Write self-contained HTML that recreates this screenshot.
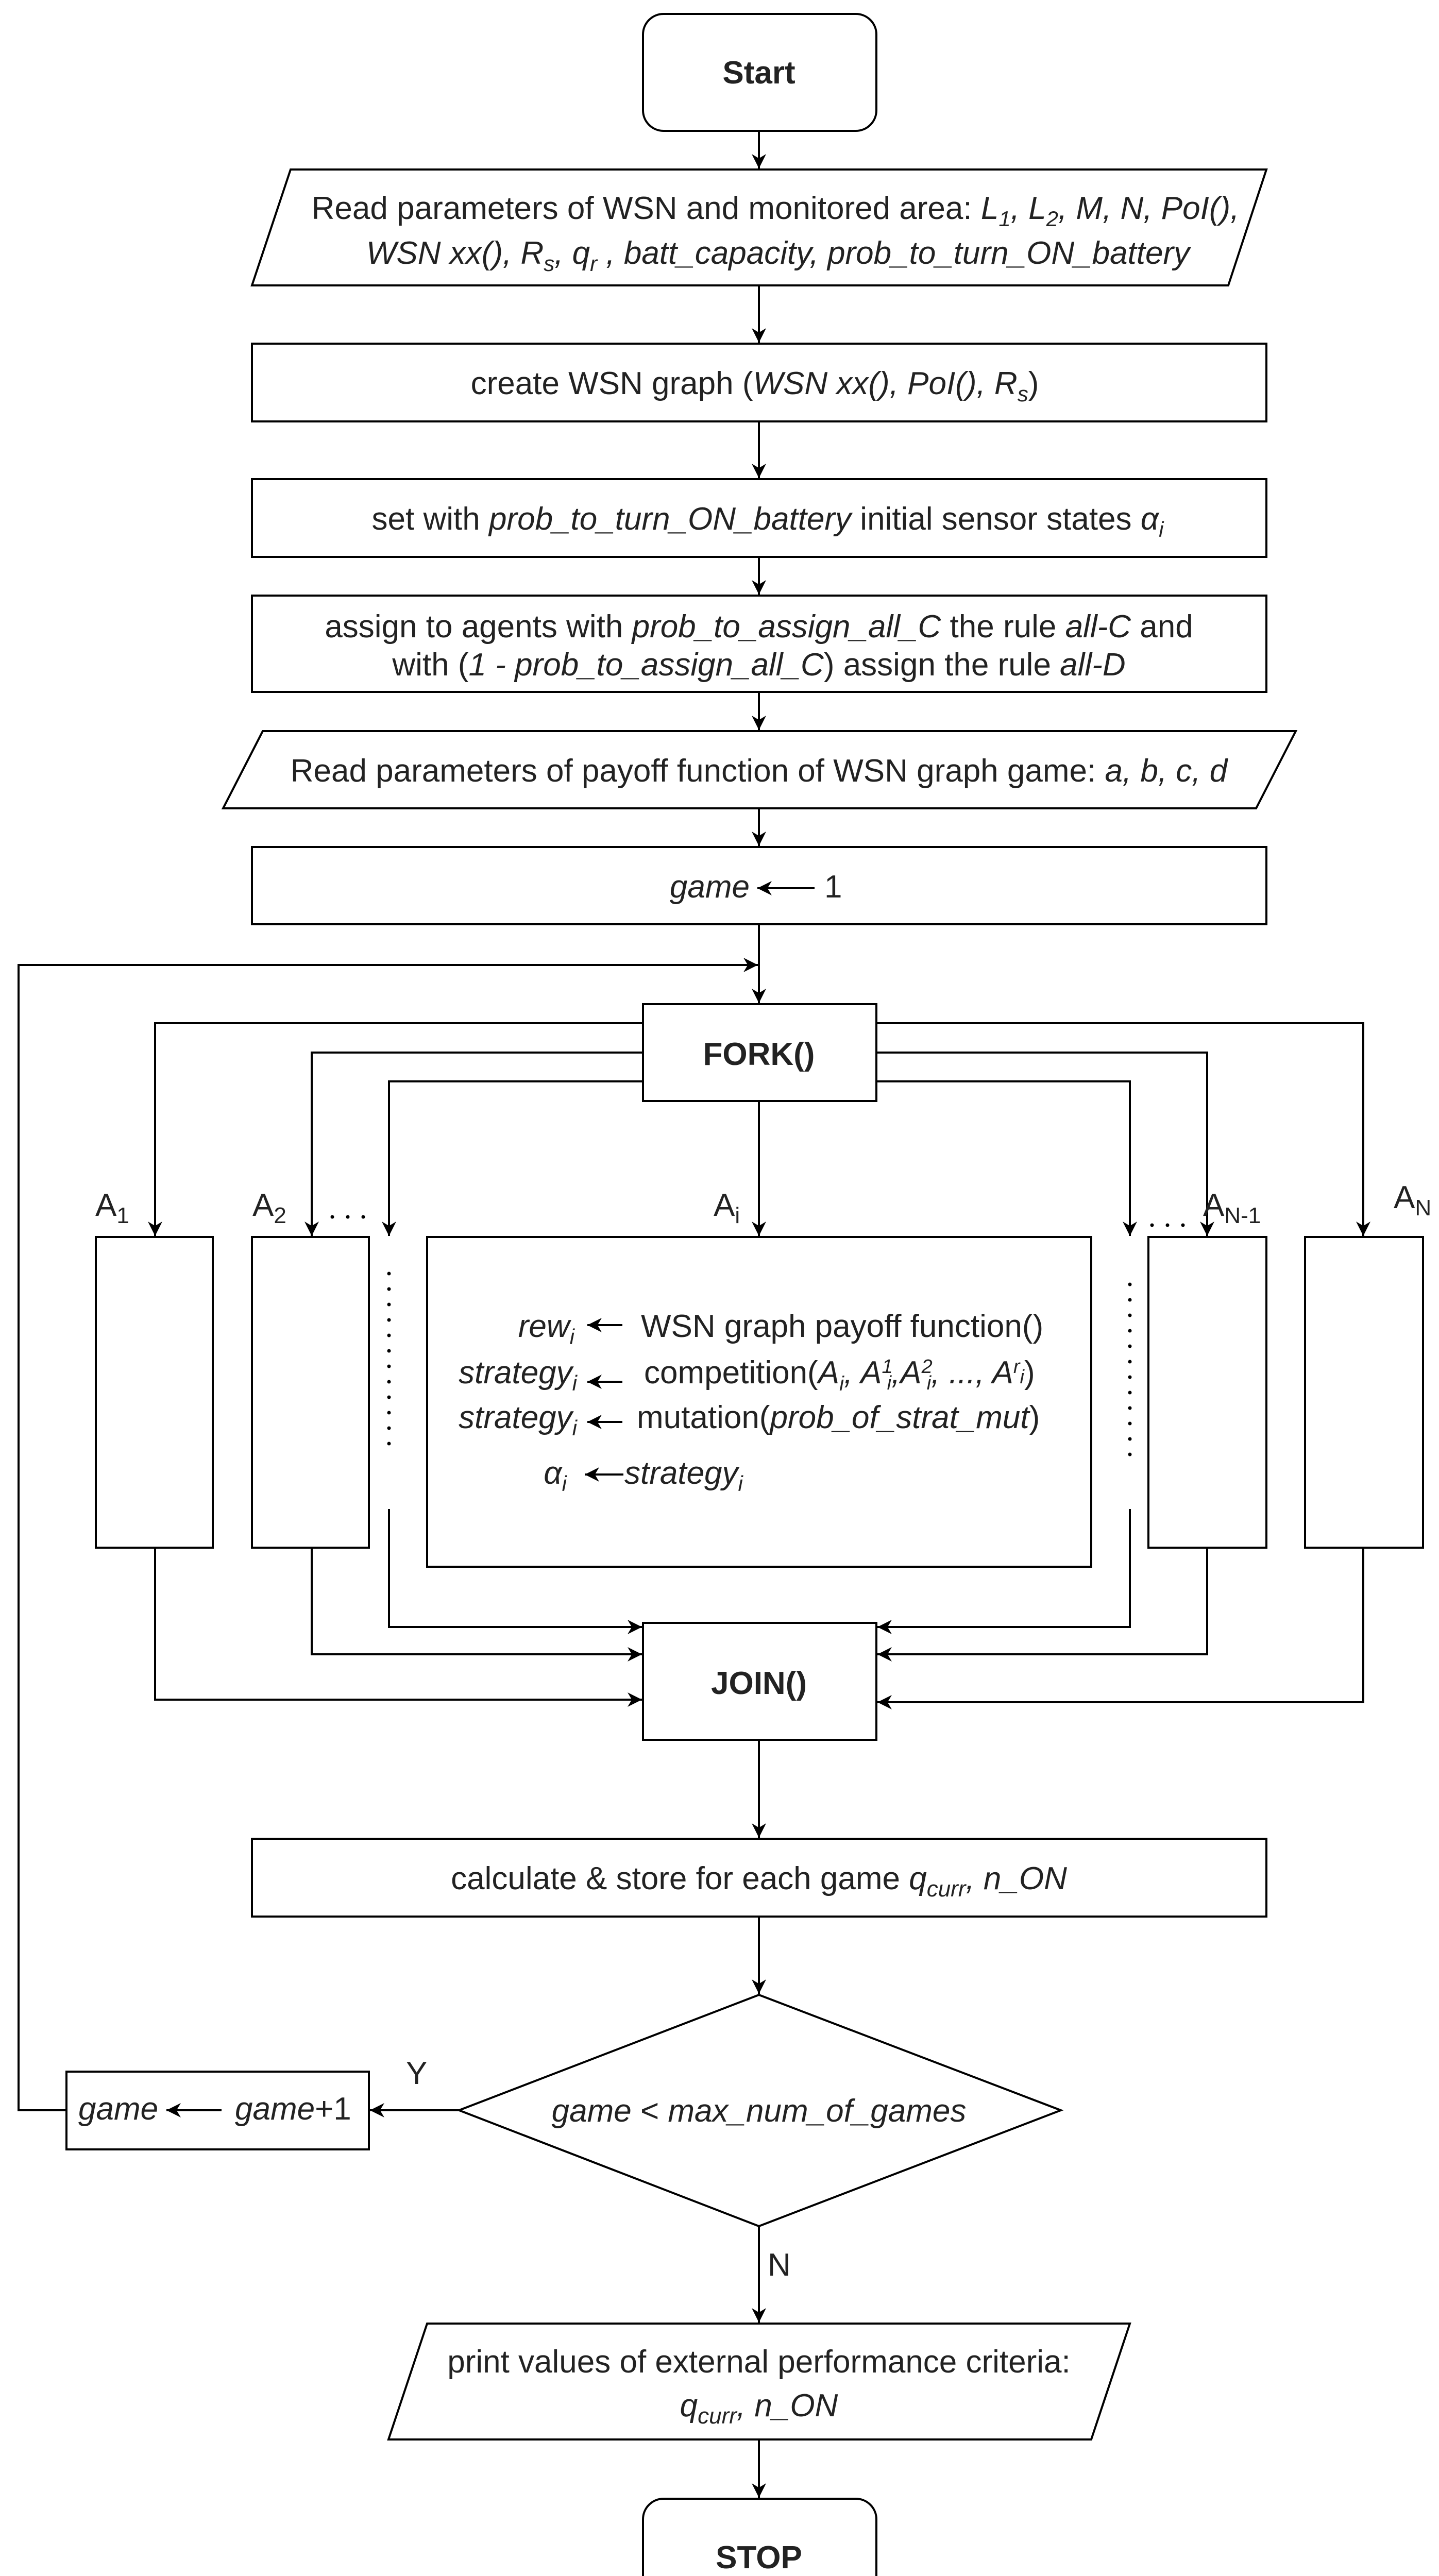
<!DOCTYPE html>
<html><head><meta charset="utf-8"><style>
html,body{margin:0;padding:0;background:#fff;width:2793px;height:5105px;overflow:hidden}
svg{display:block;position:absolute;left:0;top:0}
text{font-family:"Liberation Sans",Arial,sans-serif;font-size:62px;fill:#222}
.i{font-style:italic}
.b{font-weight:bold}
</style></head><body>
<svg width="2793" height="5105" viewBox="0 0 2793 5105" xmlns="http://www.w3.org/2000/svg">
<defs>
<marker id="ah" viewBox="0 0 10 10" refX="10" refY="5" markerWidth="28" markerHeight="28" markerUnits="userSpaceOnUse" orient="auto">
<path d="M0,0 L10,5 L0,10 L3,5 z" fill="#000"/>
</marker>
</defs>
<g fill="none" stroke="#000" stroke-width="4">
<rect x="1248" y="27" width="453" height="227" rx="40"/>
<polygon points="564,329 2458,329 2384,554 489,554"/>
<rect x="489" y="667" width="1969" height="151"/>
<rect x="489" y="930" width="1969" height="151"/>
<rect x="489" y="1156" width="1969" height="187"/>
<polygon points="510,1419 2515,1419 2438,1569 433,1569"/>
<rect x="489" y="1644" width="1969" height="150"/>
<rect x="1248" y="1949" width="453" height="188"/>
<rect x="186" y="2401" width="227" height="603"/>
<rect x="489" y="2401" width="227" height="603"/>
<rect x="829" y="2401" width="1289" height="640"/>
<rect x="2229" y="2401" width="229" height="603"/>
<rect x="2533" y="2401" width="229" height="603"/>
<rect x="1248" y="3150" width="453" height="227"/>
<rect x="489" y="3569" width="1969" height="151"/>
<polygon points="1473,3872 2059,4096 1473,4321 891,4096"/>
<rect x="129" y="4021" width="587" height="151"/>
<polygon points="829,4510 2193,4510 2118,4735 754,4735"/>
<rect x="1248" y="4850" width="453" height="225" rx="40"/>
</g>
<g fill="none" stroke="#000" stroke-width="4" marker-end="url(#ah)">
<line x1="1473" y1="254" x2="1473" y2="327"/>
<line x1="1473" y1="554" x2="1473" y2="665"/>
<line x1="1473" y1="818" x2="1473" y2="928"/>
<line x1="1473" y1="1081" x2="1473" y2="1154"/>
<line x1="1473" y1="1343" x2="1473" y2="1417"/>
<line x1="1473" y1="1569" x2="1473" y2="1642"/>
<line x1="1473" y1="1794" x2="1473" y2="1947"/>
<polyline points="129,4096 36,4096 36,1873 1471,1873"/>
<polyline points="1248,1986 301,1986 301,2399"/>
<polyline points="1248,2043 605,2043 605,2399"/>
<polyline points="1248,2099 755,2099 755,2399"/>
<line x1="1473" y1="2137" x2="1473" y2="2399"/>
<polyline points="1701,2099 2193,2099 2193,2399"/>
<polyline points="1701,2043 2343,2043 2343,2399"/>
<polyline points="1701,1986 2646,1986 2646,2399"/>
<polyline points="755,2929 755,3158 1246,3158"/>
<polyline points="605,3004 605,3211 1246,3211"/>
<polyline points="301,3004 301,3299 1246,3299"/>
<polyline points="2193,2929 2193,3158 1703,3158"/>
<polyline points="2343,3004 2343,3211 1703,3211"/>
<polyline points="2646,3004 2646,3304 1703,3304"/>
<line x1="1473" y1="3377" x2="1473" y2="3567"/>
<line x1="1473" y1="3720" x2="1473" y2="3870"/>
<line x1="891" y1="4096" x2="718" y2="4096"/>
<line x1="1473" y1="4321" x2="1473" y2="4508"/>
<line x1="1473" y1="4735" x2="1473" y2="4848"/>
<line x1="1208" y1="2572" x2="1140" y2="2572"/>
<line x1="1208" y1="2682" x2="1140" y2="2682"/>
<line x1="1208" y1="2760" x2="1140" y2="2760"/>
<line x1="1210" y1="2862" x2="1135" y2="2862"/>
<line x1="1581" y1="1724" x2="1470" y2="1724"/>
<line x1="430" y1="4096" x2="323" y2="4096"/>
</g>
<g stroke="#000" stroke-width="7" stroke-linecap="round" stroke-dasharray="0 30">
<line x1="755" y1="2472" x2="755" y2="2814"/>
<line x1="2193" y1="2493" x2="2193" y2="2835"/>
<line x1="645" y1="2362" x2="712" y2="2362"/>
<line x1="2236" y1="2378" x2="2320" y2="2378"/>
</g>
<text x="1473" y="162" text-anchor="middle" class="b">Start</text>
<text x="1505" y="425" text-anchor="middle">Read parameters of WSN and monitored area: <tspan class="i">L<tspan font-size="42" dy="14">1</tspan><tspan dy="-14">, L</tspan><tspan font-size="42" dy="14">2</tspan><tspan dy="-14">, M, N, PoI(),</tspan></tspan></text>
<text x="1510" y="512" text-anchor="middle" class="i">WSN xx(), R<tspan font-size="42" dy="14">s</tspan><tspan dy="-14">, q</tspan><tspan font-size="42" dy="14">r</tspan><tspan dy="-14"> , batt_capacity, prob_to_turn_ON_battery</tspan></text>
<text x="1465" y="765" text-anchor="middle">create WSN graph (<tspan class="i">WSN xx(), PoI(), R</tspan><tspan class="i" font-size="42" dy="14">s</tspan><tspan dy="-14">)</tspan></text>
<text x="1490" y="1028" text-anchor="middle">set with <tspan class="i">prob_to_turn_ON_battery</tspan> initial sensor states <tspan class="i">α</tspan><tspan class="i" font-size="42" dy="14">i</tspan></text>
<text x="1473" y="1237" text-anchor="middle" fill="#555">assign to agents with <tspan class="i">prob_to_assign_all_C</tspan> the rule <tspan class="i">all-C</tspan> and</text>
<text x="1473" y="1311" text-anchor="middle" fill="#555">with (<tspan class="i">1 -  prob_to_assign_all_C</tspan>) assign the rule <tspan class="i">all-D</tspan></text>
<text x="1473" y="1517" text-anchor="middle">Read parameters of  payoff function of WSN graph game: <tspan class="i">a, b, c, d</tspan></text>
<text x="1455" y="1742" text-anchor="end" class="i">game</text>
<text x="1600" y="1742">1</text>
<text x="1473" y="2067" text-anchor="middle" class="b">FORK()</text>
<text x="185" y="2360">A<tspan font-size="44" dy="14">1</tspan></text>
<text x="490" y="2360">A<tspan font-size="44" dy="14">2</tspan></text>
<text x="1385" y="2360">A<tspan font-size="44" dy="14">i</tspan></text>
<text x="2335" y="2360">A<tspan font-size="44" dy="14">N-1</tspan></text>
<text x="2705" y="2345">A<tspan font-size="44" dy="14">N</tspan></text>
<text x="1115" y="2595" text-anchor="end" class="i">rew<tspan font-size="42" dy="14">i</tspan></text>
<text x="1244" y="2595">WSN graph payoff function()</text>
<text x="1120" y="2685" text-anchor="end" class="i">strategy<tspan font-size="42" dy="14">i</tspan></text>
<text x="1250" y="2685">competition(<tspan class="i">A<tspan font-size="40" dy="14">i</tspan><tspan dy="-14">, A</tspan><tspan font-size="38" dy="-20">1</tspan><tspan font-size="38" dx="-11" dy="32">i</tspan><tspan dy="-12">,A</tspan><tspan font-size="38" dy="-20">2</tspan><tspan font-size="38" dx="-11" dy="32">i</tspan><tspan dy="-12">, ..., A</tspan><tspan font-size="38" dy="-20">r</tspan><tspan font-size="38" dy="20">i</tspan></tspan>)</text>
<text x="1120" y="2772" text-anchor="end" class="i">strategy<tspan font-size="42" dy="14">i</tspan></text>
<text x="1236" y="2772">mutation(<tspan class="i">prob_of_strat_mut</tspan>)</text>
<text x="1100" y="2880" text-anchor="end" class="i">α<tspan font-size="42" dy="14">i</tspan></text>
<text x="1212" y="2880" class="i">strategy<tspan font-size="42" dy="14">i</tspan></text>
<text x="1473" y="3288" text-anchor="middle" class="b">JOIN()</text>
<text x="1473" y="3667" text-anchor="middle">calculate &amp; store for each game <tspan class="i">q</tspan><tspan class="i" font-size="44" dy="14">curr</tspan><tspan class="i" dy="-14">, n_ON</tspan></text>
<text x="1473" y="4118" text-anchor="middle" class="i">game <tspan font-style="normal">&lt;</tspan> max_num_of_games</text>
<text x="152" y="4114" class="i">game</text>
<text x="456" y="4114"><tspan class="i">game</tspan>+1</text>
<text x="788" y="4045">Y</text>
<text x="1490" y="4417">N</text>
<text x="1473" y="4605" text-anchor="middle">print values of external performance criteria:</text>
<text x="1473" y="4690" text-anchor="middle" class="i">q<tspan font-size="44" dy="14">curr</tspan><tspan dy="-14">, n_ON</tspan></text>
<text x="1473" y="4985" text-anchor="middle" class="b">STOP</text>
</svg>
</body></html>
